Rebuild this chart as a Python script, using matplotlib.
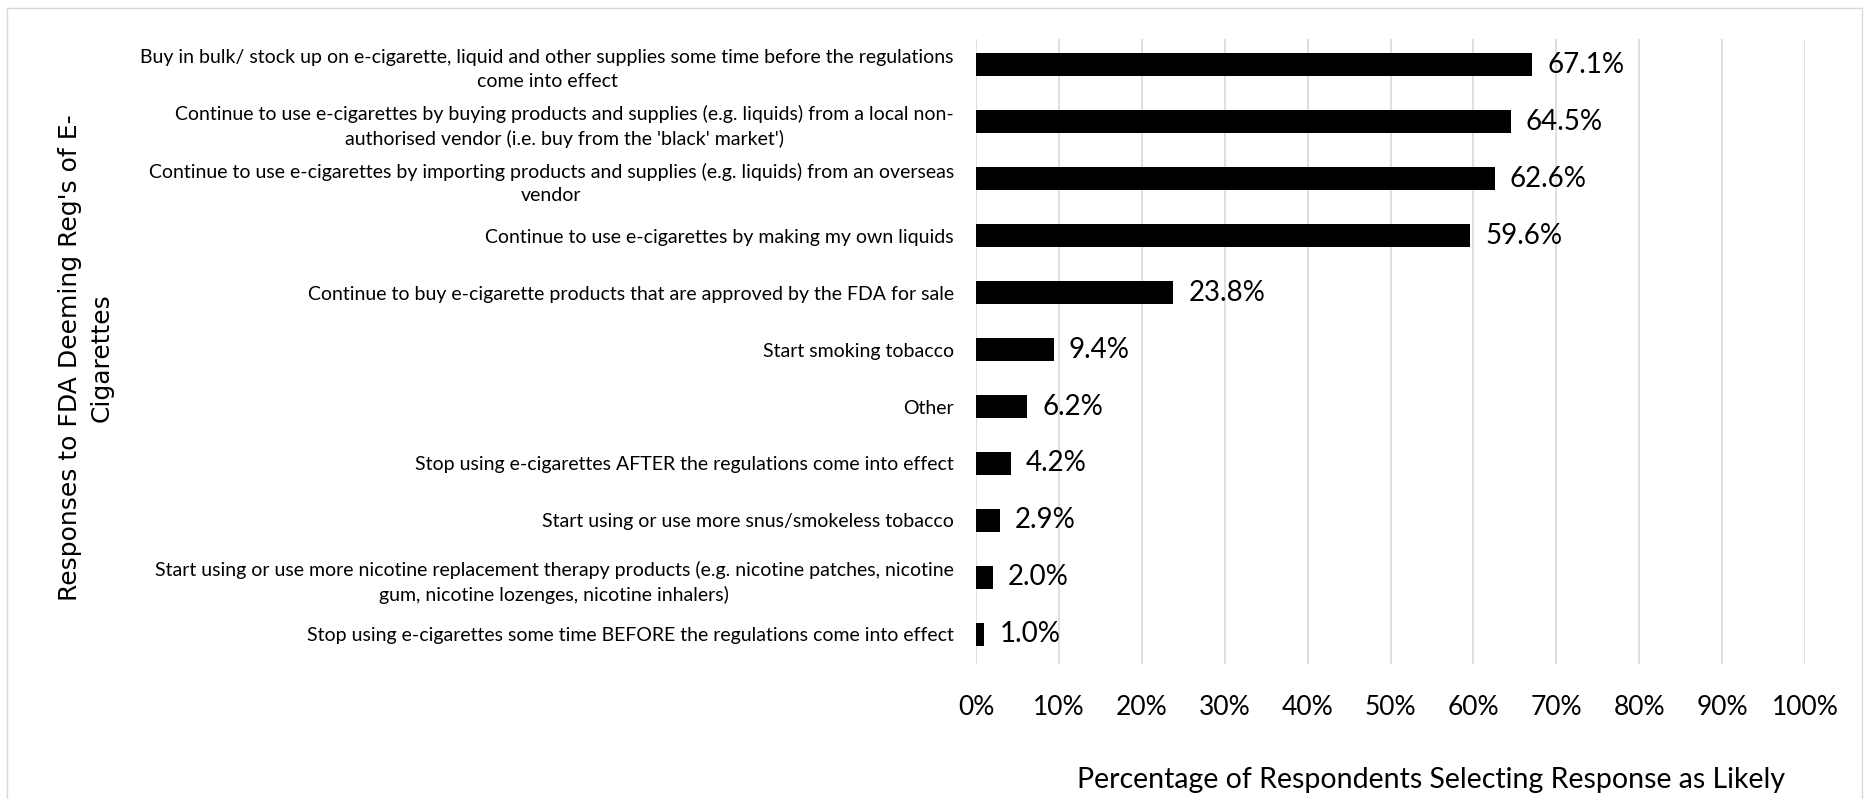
import matplotlib.pyplot as plt
from matplotlib.patches import Rectangle
from matplotlib.ticker import PercentFormatter

responses = [
    "Buy in bulk/ stock up on e-cigarette, liquid and other supplies some time before the regulations\ncome into effect",
    "Continue to use e-cigarettes by buying products and supplies (e.g. liquids) from a local non-\nauthorised vendor (i.e. buy from the 'black' market')",
    "Continue to use e-cigarettes by importing products and supplies (e.g. liquids) from an overseas\nvendor",
    "Continue to use e-cigarettes by making my own liquids",
    "Continue to buy e-cigarette products that are approved by the FDA for sale",
    "Start smoking tobacco",
    "Other",
    "Stop using e-cigarettes AFTER the regulations come into effect",
    "Start using or use more snus/smokeless tobacco",
    "Start using or use more nicotine replacement therapy products (e.g. nicotine patches, nicotine\ngum, nicotine lozenges, nicotine inhalers)",
    "Stop using e-cigarettes some time BEFORE the regulations come into effect",
]
pct_likely = [67.1, 64.5, 62.6, 59.6, 23.8, 9.4, 6.2, 4.2, 2.9, 2.0, 1.0]
x_ticks = [0, 10, 20, 30, 40, 50, 60, 70, 80, 90, 100]

plt.rcParams["font.family"] = ["Lato", "DejaVu Sans"]

fig = plt.figure(figsize=(18.68, 7.99), dpi=100)
ax = fig.add_axes([0.5225, 0.169, 0.4438, 0.782])

positions = list(range(len(responses)))
ax.barh(positions, pct_likely, height=0.4, color="black", zorder=3)
for pos, val in zip(positions, pct_likely):
    ax.text(val + 1.8, pos, f"{val:.1f}%", va="center", ha="left", fontsize=20, zorder=4)

ax.set_xlim(0, 100)
ax.set_ylim(10.52, -0.45)
ax.set_xticks(x_ticks)
ax.xaxis.set_major_formatter(PercentFormatter(decimals=0))
ax.set_yticks(positions)
ax.set_yticklabels(responses, multialignment="center", linespacing=1.45)
ax.tick_params(axis="y", length=0, pad=16, labelsize=14)
ax.tick_params(axis="x", length=0, pad=22, labelsize=19)
ax.grid(axis="x", color="#d9d9d9", linewidth=1.2, zorder=0)
for spine in ax.spines.values():
    spine.set_visible(False)

fig.text(0.766, 0.024, "Percentage of Respondents Selecting Response as Likely",
         ha="center", va="center", fontsize=20.5)
fig.text(0.046, 0.553, "Responses to FDA Deeming Reg's of E-\nCigarettes",
         ha="center", va="center", rotation=90, fontsize=18, family="DejaVu Sans",
         multialignment="center", linespacing=1.4)

# thin outline around the chart area
fig.patches.append(Rectangle((0.004, -0.01), 0.993, 1.0, transform=fig.transFigure,
                             fill=False, edgecolor="#d9d9d9", linewidth=1.0))

fig.savefig("out.png", dpi=100)
